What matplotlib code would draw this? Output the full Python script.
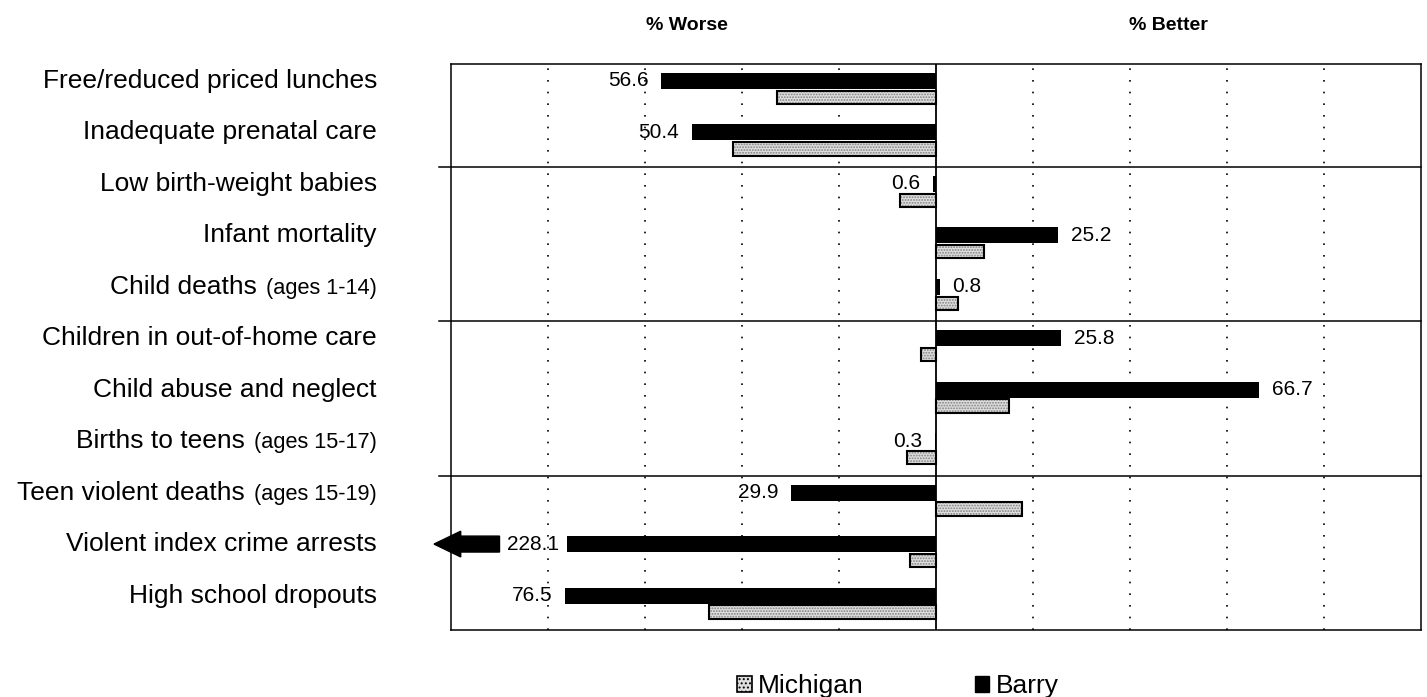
import matplotlib
matplotlib.use('Agg')
import matplotlib.pyplot as plt
from matplotlib.patches import Rectangle, FancyArrow
from matplotlib.offsetbox import TextArea, HPacker, AnnotationBbox
import numpy as np


categories = [
    'Free/reduced priced lunches',
    'Inadequate prenatal care',
    'Low birth-weight babies',
    'Infant mortality',
    'Child deaths',
    'Children in out-of-home care',
    'Child abuse and neglect',
    'Births to teens',
    'Teen violent deaths',
    'Violent index crime arrests',
    'High school dropouts',
]
age_notes = ['', '', '', '', '(ages 1-14)', '', '',
             '(ages 15-17)', '(ages 15-19)', '', '']

# negative = % worse, positive = % better
barry = [-56.6, -50.4, -0.6, 25.2, 0.8, 25.8, 66.7, -0.3, -29.9, -228.1, -76.5]
michigan = [-32.8, -41.8, -7.5, 9.8, 4.5, -3.0, 15.0, -6.0, 17.7, -5.3, -46.9]

group_breaks = [2, 5, 8]
grid_ticks = [-80, -60, -40, -20, 20, 40, 60, 80]
series_names = ['Michigan', 'Barry']

W, H = 1427, 697
plt.rcParams['font.family'] = ['Liberation Sans', 'DejaVu Sans']
plt.rcParams['hatch.linewidth'] = 0.9

fig = plt.figure(figsize=(W / 100., H / 100.), dpi=100)
ax = fig.add_axes([451. / W, 1 - 630. / H, 970. / W, 566. / H])

n = len(categories)
y = np.arange(n)
barry = np.array(barry)
michigan = np.array(michigan)

xmin, xmax = -100, 100
ax.set_xlim(xmin, xmax)
ax.set_ylim(n - 0.5, -0.5)

off_b, h_b = -0.17, 0.31
off_m, h_m = 0.15, 0.26

# off-scale bar is cut and continued by an arrow
cut_at = -76.
off_scale = barry < xmin
barry_shown = np.where(off_scale, cut_at, barry)

ax.barh(y + off_b, barry_shown, height=h_b, color='black', zorder=4)

hatch_fill = '#dedede'
ax.barh(y + off_m, michigan, height=h_m, color=hatch_fill, hatch='......',
        edgecolor='#808080', linewidth=0, zorder=3)
ax.barh(y + off_m, michigan, height=h_m, fill=False, edgecolor='black',
        linewidth=1.5, zorder=3)

for t in grid_ticks:
    ax.axvline(t, color='black', lw=1.2, ls=(0, (1, 6)), zorder=1)
ax.axvline(0, color='black', lw=1.3, zorder=5)

for b in group_breaks:
    ax.axhline(b - 0.5, xmin=-0.012, xmax=1, color='black', lw=1.1,
               clip_on=False, zorder=2)

ax.set_xticks([])
ax.set_yticks([])
for sp in ax.spines.values():
    sp.set_linewidth(1.1)

# value labels for Barry
val_fs = 15
for yi, v, cut in zip(y, barry, off_scale):
    yb = yi + off_b
    if cut:
        gap_l = cut_at - 14.
        ax.text((cut_at + gap_l) / 2., yb, '%.1f' % abs(v), ha='center',
                va='center', fontsize=val_fs)
        ax.add_patch(FancyArrow(
            gap_l, yb, (xmin - 3.5) - gap_l, 0, width=h_b, head_width=0.5,
            head_length=5.5, length_includes_head=True, color='black',
            clip_on=False, zorder=4))
    elif v < 0:
        ax.annotate('%.1f' % abs(v), (v, yb), xytext=(-9, 0),
                    textcoords='offset points', ha='right', va='center',
                    fontsize=val_fs)
    else:
        ax.annotate('%.1f' % v, (v, yb), xytext=(9, 0),
                    textcoords='offset points', ha='left', va='center',
                    fontsize=val_fs)

# category labels, with the smaller age notes
lab_fs, note_fs = 19, 15.7
for yi, name, note in zip(y, categories, age_notes):
    parts = [TextArea(name, textprops=dict(fontsize=lab_fs))]
    if note:
        parts.append(TextArea(note, textprops=dict(fontsize=note_fs)))
    box = HPacker(children=parts, align='baseline', pad=0, sep=7)
    ab = AnnotationBbox(box, (377. / W, yi + off_b),
                        xycoords=('figure fraction', 'data'),
                        box_alignment=(1, 0.5), frameon=False, pad=0,
                        annotation_clip=False)
    ax.add_artist(ab)

fig.text(687. / W, 1 - 25. / H, '% Worse', ha='center', va='center',
         fontsize=14, fontweight='bold')
fig.text(1168. / W, 1 - 25. / H, '% Better', ha='center', va='center',
         fontsize=14, fontweight='bold')

handles = [
    Rectangle((0, 0), 1, 1, facecolor=hatch_fill, hatch='....',
              edgecolor='black', linewidth=1.2),
    Rectangle((0, 0), 1, 1, facecolor='black', edgecolor='black'),
]
fig.legend(handles, series_names, loc='center left',
           bbox_to_anchor=(737. / W, 1 - 686. / H), ncol=2, frameon=False,
           fontsize=19, handlelength=0.55, handleheight=0.55,
           handletextpad=0.25, columnspacing=4.2, borderpad=0,
           borderaxespad=0)

fig.savefig('out.png', dpi=100)
